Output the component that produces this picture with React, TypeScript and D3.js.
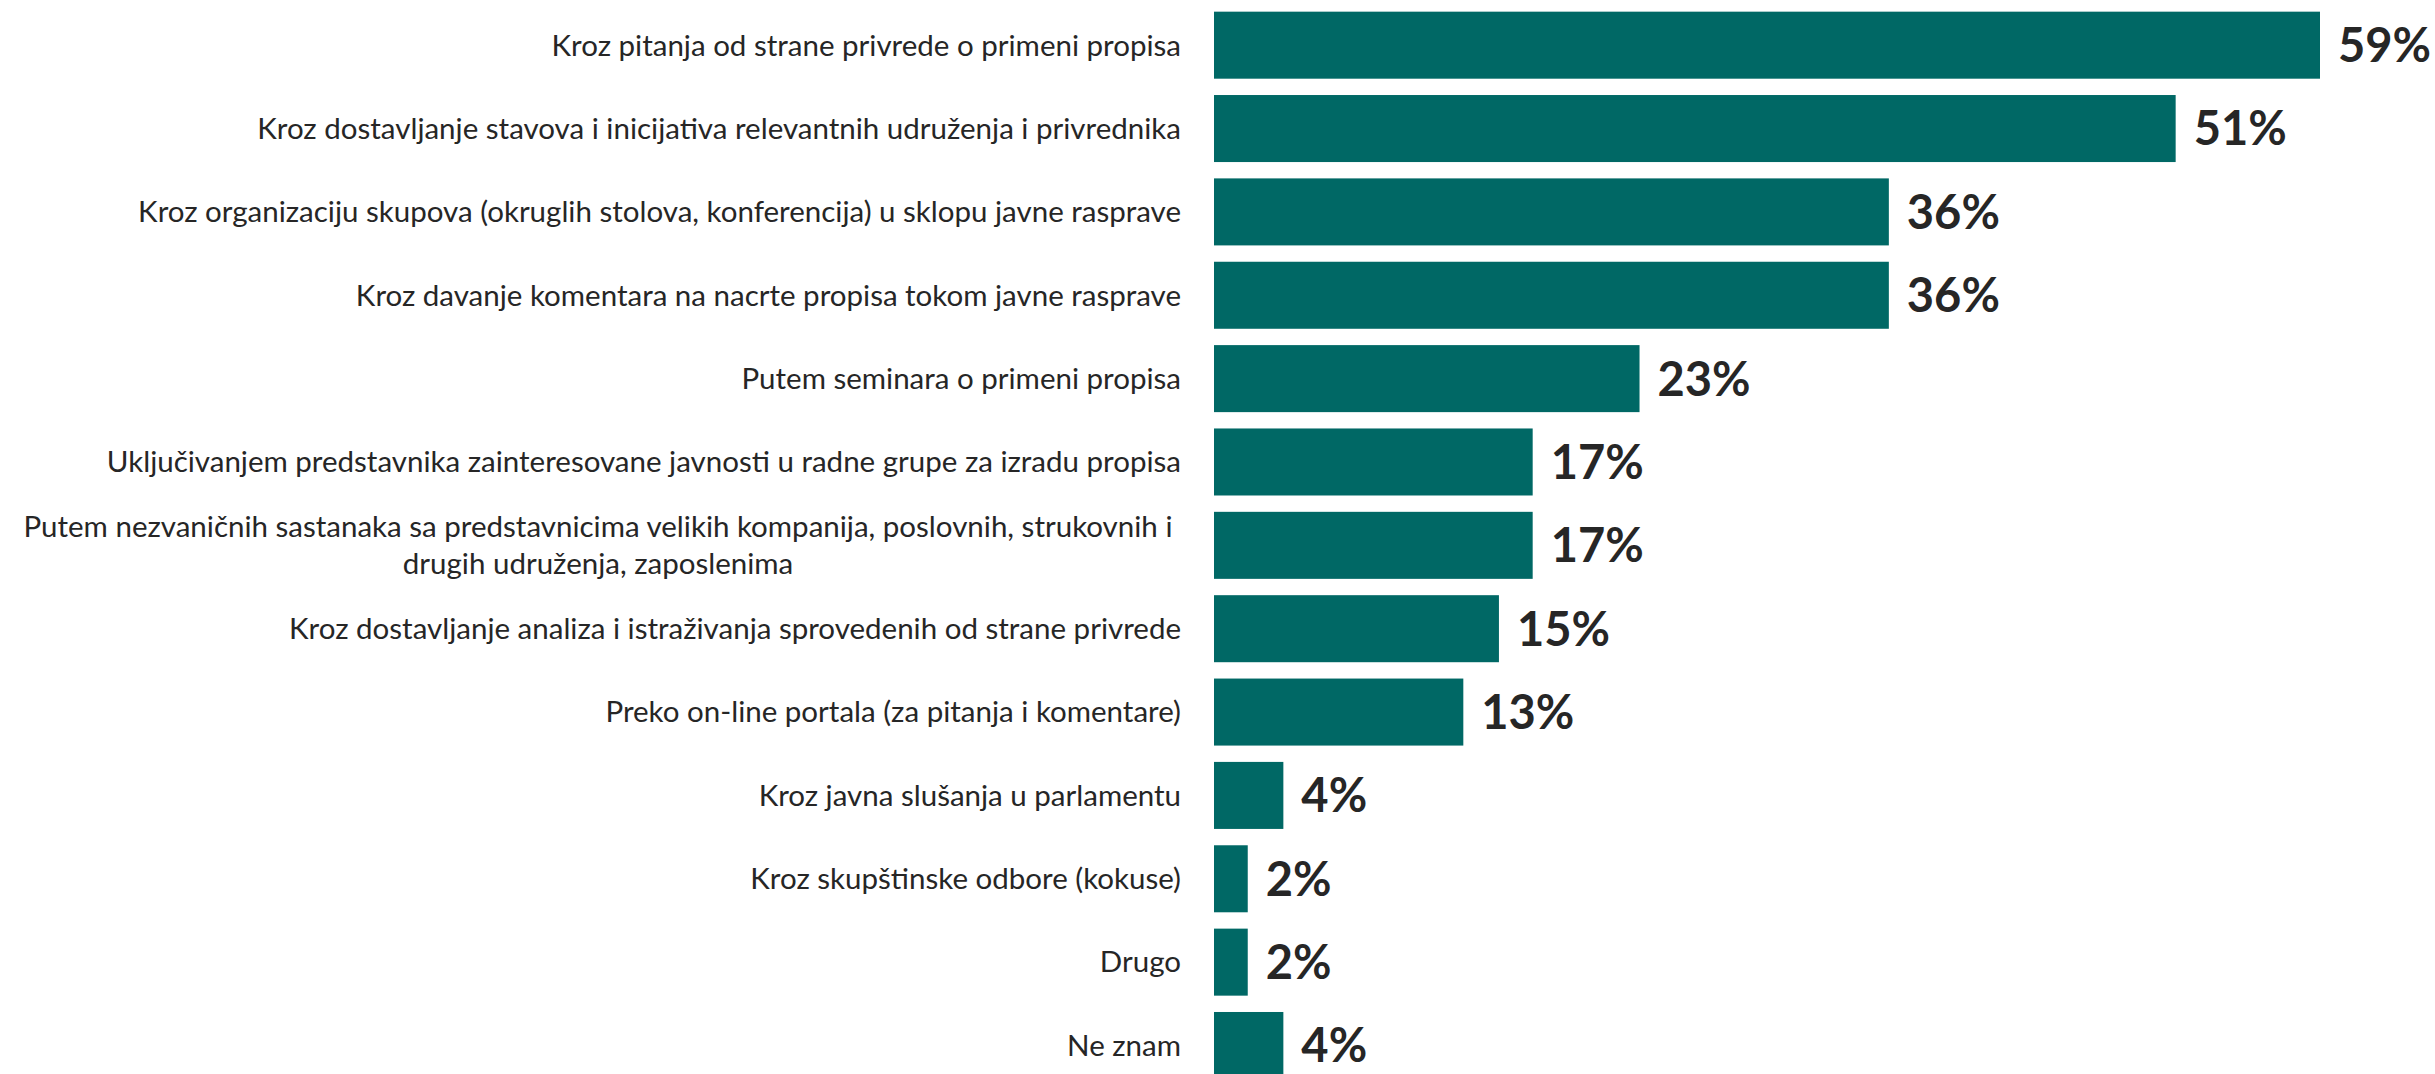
import React from "react";
import * as d3 from "d3";

const categories: string[][] = [
  ["Kroz pitanja od strane privrede o primeni propisa"],
  ["Kroz dostavljanje stavova i inicijativa relevantnih udruženja i privrednika"],
  ["Kroz organizaciju skupova (okruglih stolova, konferencija) u sklopu javne rasprave"],
  ["Kroz davanje komentara na nacrte propisa tokom javne rasprave"],
  ["Putem seminara o primeni propisa"],
  ["Uključivanjem predstavnika zainteresovane javnosti u radne grupe za izradu propisa"],
  ["Putem nezvaničnih sastanaka sa predstavnicima velikih kompanija, poslovnih, strukovnih i", "drugih udruženja, zaposlenima"],
  ["Kroz dostavljanje analiza i istraživanja sprovedenih od strane privrede"],
  ["Preko on-line portala (za pitanja i komentare)"],
  ["Kroz javna slušanja u parlamentu"],
  ["Kroz skupštinske odbore (kokuse)"],
  ["Drugo"],
  ["Ne znam"],
];
const values: number[] = [59, 51.3, 36, 36, 22.7, 17, 17, 15.2, 13.3, 3.7, 1.8, 1.8, 3.7];

const W = 2435;
const H = 1074;
const BAR = "#006865";
const TEXT = "#262626";
const FONT = "Lato, 'Open Sans', sans-serif";

export default function App() {
  const idx = categories.map((_, i) => i);
  const y = d3.scaleBand<number>().domain(idx).range([3.5, 3.5 + 13 * 83.36]).paddingInner(0.196).paddingOuter(0.098);
  const x = d3.scaleLinear().domain([0, 59]).range([1214, 2320]);
  const labelX = 1181;
  const lineH = 37;
  return (
    <svg width={W} height={H} style={{ position: "absolute", left: 0, top: 0, background: "#fff" }}>
      {idx.map((i) => {
        const y0 = y(i)!;
        const bw = y.bandwidth();
        const cy = y0 + bw / 2;
        const lines = categories[i];
        const multi = lines.length > 1;
        return (
          <g key={i}>
            <rect x={x(0)} y={y0} width={x(values[i]) - x(0)} height={bw} fill={BAR} />
            <text x={x(values[i]) + 18} y={cy} dy="0.36em" fontFamily={FONT} fontWeight={700} fontSize={47} fill={TEXT}>
              {Math.round(values[i])}%
            </text>
            {multi ? (
              <text fontFamily={FONT} fontSize={29.5} fill={TEXT} textAnchor="middle">
                {lines.map((l, k) => (
                  <tspan key={k} x={598} y={cy + (k - (lines.length - 1) / 2) * lineH} dy="0.35em">
                    {l}
                  </tspan>
                ))}
              </text>
            ) : (
              <text x={labelX} y={cy} dy="0.35em" textAnchor="end" fontFamily={FONT} fontSize={29.5} fill={TEXT}>
                {lines[0]}
              </text>
            )}
          </g>
        );
      })}
    </svg>
  );
}
